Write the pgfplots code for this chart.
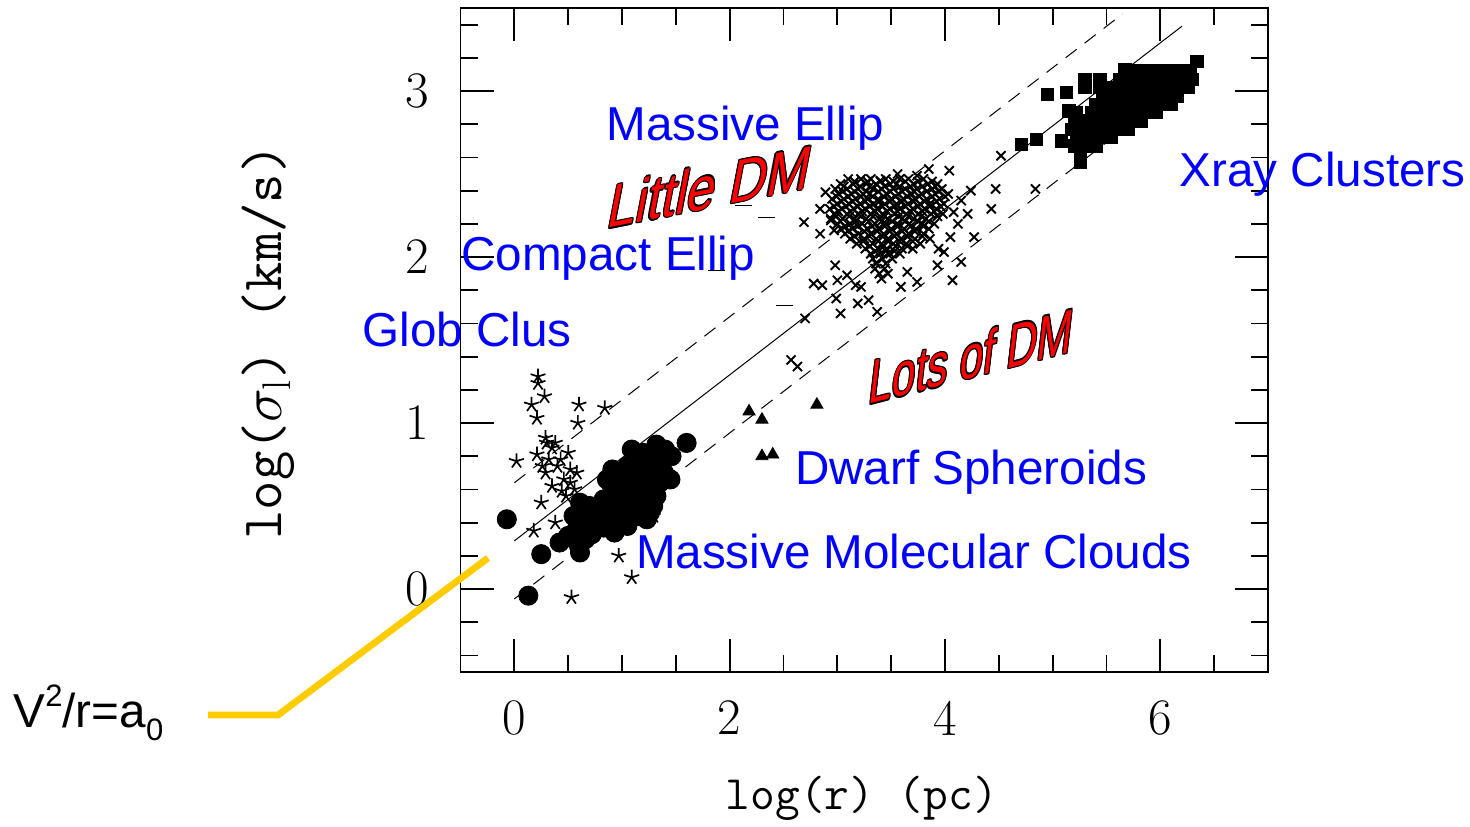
\RequirePackage{fix-cm}
\documentclass[border=0pt]{standalone}
\usepackage{fontspec}
\newfontfamily\arial{Liberation Sans}
\usepackage{pgfplots}
\pgfplotsset{compat=1.18}
\definecolor{annblue}{RGB}{0,0,255}
\definecolor{annred}{RGB}{255,0,0}
\definecolor{azeroyellow}{RGB}{255,204,0}

% red text with a black rim (copies shifted round it)
\newcommand\outlined[1]{%
  \leavevmode
  \rlap{\color{black}\kern0.55pt#1}%
  \rlap{\color{black}\kern-0.55pt#1}%
  \rlap{\color{black}\raisebox{0.55pt}{#1}}%
  \rlap{\color{black}\raisebox{-0.55pt}{#1}}%
  \rlap{\color{black}\kern0.4pt\raisebox{0.4pt}{#1}}%
  \rlap{\color{black}\kern-0.4pt\raisebox{0.4pt}{#1}}%
  \rlap{\color{black}\kern0.4pt\raisebox{-0.4pt}{#1}}%
  \rlap{\color{black}\kern-0.4pt\raisebox{-0.4pt}{#1}}%
  {\color{annred}#1}}

\begin{document}
\begin{tikzpicture}
\path[use as bounding box] (0,0) rectangle (735pt,413pt);
\begin{axis}[
    at={(230.25pt,77pt)}, anchor=south west,
    width=403.75pt, height=332pt, scale only axis,
    xmin=-0.5, xmax=7, ymin=-0.5, ymax=3.5,
    xtick={0,2,4,6}, ytick={0,1,2,3},
    minor xtick={0.5,1,1.5,2.5,3,3.5,4.5,5,5.5,6.5},
    minor ytick={-0.4,-0.2,0.2,0.4,0.6,0.8,1.2,1.4,1.6,1.8,2.2,2.4,2.6,2.8,3.2,3.4},
    tick align=inside,
    major tick length=16.5pt, minor tick length=8.5pt,
    every tick/.style={black, line width=0.9pt},
    axis line style={line width=0.9pt},
    /pgf/number format/assume math mode=true,
    tick label style={font=\fontsize{25.6}{30}\selectfont},
    xticklabel style={anchor=center, yshift=-23pt},
    yticklabel style={anchor=center, xshift=-21.75pt},
    xlabel={log(r) (pc)},
    ylabel={log($\sigma_{\mathrm{l}}$) (km/s)},
    xlabel style={font=\ttfamily\fontsize{24}{28}\selectfont, at={(axis description cs:0.497,-0.19)}, anchor=center},
    ylabel style={font=\ttfamily\fontsize{28.5}{32}\selectfont, at={(axis description cs:-0.238,0.497)}, anchor=center},
]
% relations sigma ~ r^(1/2)
\addplot[black, line width=0.5pt, no markers] coordinates {(0,0.29) (6.2,3.39)};
\addplot[black, line width=0.5pt, dash pattern=on 7pt off 5pt, no markers] coordinates {(0,0.64) (5.65,3.465)};
\addplot[black, line width=0.5pt, dash pattern=on 7pt off 5pt, no markers] coordinates {(0,-0.06) (6.0,2.94)};

% globular clusters
\addplot[only marks, mark=star, mark size=3.9pt, mark options={line width=0.85pt}] coordinates {
(0.22,1.28) (0.22,1.24) (0.28,1.16) (0.16,1.11) (0.21,1.03) (0.60,1.11)
(0.84,1.09) (0.59,1.00) (0.29,0.91) (0.02,0.77) (0.21,0.81) (0.35,0.85)
(0.43,0.78) (0.50,0.82) (0.32,0.78) (0.40,0.74) (0.29,0.70) (0.52,0.72)
(0.58,0.70) (0.46,0.66) (0.35,0.62) (0.44,0.59) (0.52,0.64) (0.25,0.52)
(0.38,0.40) (0.18,0.35) (0.97,0.20) (1.09,0.07) (0.53,-0.05) (1.29,0.44)
(0.30,0.88) (0.38,0.88) (0.48,0.56) (0.56,0.60) (0.26,0.74)
};

% massive molecular clouds
\addplot[only marks, mark=*, mark size=4.8pt, mark options={black}] coordinates {
(-0.07,0.42) (0.13,-0.04) (0.25,0.21) (0.42,0.28) (0.60,0.26) (0.58,0.36)
(0.55,0.44) (0.61,0.52) (0.67,0.42) (0.70,0.50) (0.74,0.38) (0.80,0.44)
(0.83,0.54) (0.86,0.48) (0.89,0.64) (0.92,0.38) (0.93,0.34) (0.92,0.54)
(0.95,0.70) (0.98,0.62) (1.01,0.46) (1.05,0.74) (1.05,0.38) (1.08,0.54)
(1.09,0.84) (1.14,0.64) (1.15,0.44) (1.17,0.74) (1.20,0.52) (1.26,0.62)
(1.26,0.46) (1.29,0.50) (1.29,0.76) (1.32,0.87) (1.39,0.70) (1.40,0.84)
(1.60,0.88) (0.61,0.22) (1.23,0.42) (1.45,0.66) (1.46,0.80) (0.86,0.66)
(0.91,0.72) (0.66,0.30) (0.64,0.46) (0.76,0.46) (0.72,0.33) (0.83,0.37)
(0.88,0.42) (0.98,0.52) (1.12,0.58) (1.18,0.66) (1.22,0.72) (1.32,0.56)
(1.35,0.64) (1.34,0.78) (1.20,0.82) (1.02,0.68) (0.97,0.44) (1.10,0.48)
(0.50,0.32) (0.56,0.30)
};

% dwarf spheroidals
\addplot[only marks, mark=triangle*, mark size=3.5pt, mark options={black}] coordinates {
(2.18,1.07) (2.30,1.02) (2.30,0.80) (2.40,0.81) (2.81,1.11)
};

% compact ellipticals
\addplot[only marks, mark=-, mark size=4.25pt, mark options={line width=0.6pt}] coordinates {
(1.88,1.92) (2.13,2.31) (2.34,2.24) (2.51,1.71)
};

% ellipticals
\addplot[only marks, mark=x, mark size=3.2pt, mark options={line width=0.95pt}] coordinates {
(3.10,2.47) (3.22,2.47) (3.31,2.47) (3.45,2.47) (3.58,2.47) (3.66,2.47) (3.80,2.47)
(3.03,2.44) (3.15,2.44) (3.27,2.44) (3.36,2.44) (3.49,2.44) (3.55,2.44) (3.71,2.44) (3.84,2.44) (3.93,2.44)
(2.98,2.41) (3.09,2.41) (3.19,2.41) (3.33,2.41) (3.41,2.41) (3.52,2.41) (3.63,2.41) (3.74,2.41) (3.88,2.41) (3.97,2.41)
(3.01,2.38) (3.13,2.38) (3.24,2.38) (3.30,2.38) (3.46,2.38) (3.57,2.38) (3.69,2.38) (3.78,2.38) (3.91,2.38) (4.03,2.38)
(2.95,2.35) (3.06,2.35) (3.17,2.35) (3.28,2.35) (3.38,2.35) (3.50,2.35) (3.61,2.35) (3.72,2.35) (3.83,2.35) (3.95,2.35)
(3.00,2.32) (3.11,2.32) (3.21,2.32) (3.34,2.32) (3.44,2.32) (3.55,2.32) (3.66,2.32) (3.77,2.32) (3.86,2.32) (3.99,2.32)
(2.93,2.29) (3.04,2.29) (3.15,2.29) (3.26,2.29) (3.37,2.29) (3.49,2.29) (3.58,2.29) (3.70,2.29) (3.81,2.29) (3.92,2.29)
(2.97,2.26) (3.09,2.26) (3.19,2.26) (3.31,2.26) (3.42,2.26) (3.53,2.26) (3.64,2.26) (3.75,2.26) (3.87,2.26) (3.98,2.26)
(2.94,2.23) (3.05,2.23) (3.16,2.23) (3.27,2.23) (3.39,2.23) (3.47,2.23) (3.60,2.23) (3.71,2.23) (3.82,2.23)
(3.00,2.20) (3.12,2.20) (3.23,2.20) (3.35,2.20) (3.45,2.20) (3.56,2.20) (3.67,2.20) (3.79,2.20) (3.90,2.20)
(3.03,2.17) (3.14,2.17) (3.28,2.17) (3.38,2.17) (3.50,2.17) (3.62,2.17) (3.73,2.17) (3.85,2.17)
(3.07,2.14) (3.20,2.14) (3.31,2.14) (3.43,2.14) (3.55,2.14) (3.66,2.14) (3.80,2.14)
(3.12,2.11) (3.25,2.11) (3.36,2.11) (3.47,2.11) (3.59,2.11) (3.72,2.11) (3.86,2.11)
(3.18,2.08) (3.33,2.08) (3.41,2.08) (3.52,2.08) (3.64,2.08) (3.77,2.08)
(3.26,2.05) (3.38,2.05) (3.46,2.05) (3.60,2.05) (3.70,2.05)
(3.31,2.02) (3.40,2.02) (3.49,2.02) (3.58,2.02)
(3.16,2.455) (3.28,2.455) (3.40,2.455) (3.52,2.455) (3.63,2.455) (3.75,2.455) (3.88,2.455)
(3.06,2.425) (3.21,2.425) (3.30,2.425) (3.44,2.425) (3.58,2.425) (3.68,2.425) (3.79,2.425) (3.91,2.425)
(3.05,2.395) (3.16,2.395) (3.27,2.395) (3.38,2.395) (3.49,2.395) (3.60,2.395) (3.71,2.395) (3.83,2.395) (3.94,2.395)
(2.99,2.365) (3.10,2.365) (3.22,2.365) (3.33,2.365) (3.43,2.365) (3.54,2.365) (3.65,2.365) (3.76,2.365) (3.88,2.365) (4.00,2.365)
(3.04,2.335) (3.14,2.335) (3.26,2.335) (3.39,2.335) (3.49,2.335) (3.60,2.335) (3.71,2.335) (3.81,2.335) (3.92,2.335)
(2.97,2.305) (3.08,2.305) (3.19,2.305) (3.30,2.305) (3.42,2.305) (3.53,2.305) (3.63,2.305) (3.75,2.305) (3.86,2.305) (3.96,2.305)
(3.01,2.275) (3.12,2.275) (3.23,2.275) (3.35,2.275) (3.46,2.275) (3.56,2.275) (3.68,2.275) (3.79,2.275) (3.90,2.275)
(2.99,2.245) (3.11,2.245) (3.22,2.245) (3.33,2.245) (3.44,2.245) (3.57,2.245) (3.66,2.245) (3.78,2.245) (3.93,2.245)
(3.03,2.215) (3.17,2.215) (3.29,2.215) (3.41,2.215) (3.51,2.215) (3.63,2.215) (3.75,2.215) (3.85,2.215)
(3.07,2.185) (3.19,2.185) (3.32,2.185) (3.44,2.185) (3.56,2.185) (3.68,2.185) (3.80,2.185)
(3.10,2.155) (3.25,2.155) (3.37,2.155) (3.49,2.155) (3.60,2.155) (3.72,2.155)
(3.16,2.125) (3.30,2.125) (3.42,2.125) (3.53,2.125) (3.65,2.125) (3.79,2.125)
(3.24,2.095) (3.38,2.095) (3.47,2.095) (3.58,2.095) (3.70,2.095)
(3.30,2.065) (3.43,2.065) (3.54,2.065) (3.65,2.065)
(3.35,2.035) (3.45,2.035) (3.53,2.035)
(3.33,1.99) (3.42,1.99) (3.51,1.99) (3.36,1.96) (3.45,1.96)
(3.35,1.93) (3.44,1.93) (3.39,1.90) (3.47,1.90) (3.41,1.87)
(2.89,2.39) (2.84,2.29) (2.69,2.21) (2.84,2.14) (2.94,2.22) (2.97,2.16)
(3.85,2.53) (4.04,2.52) (3.74,2.49) (3.56,2.50) (3.40,2.46)
(4.24,2.40) (4.15,2.34) (4.08,2.27) (4.21,2.26) (4.12,2.20)
(4.52,2.61) (4.47,2.41) (4.43,2.29) (4.27,2.12) (4.84,2.41)
(4.15,1.97) (4.07,1.86) (4.05,2.12) (3.99,2.03) (3.94,2.05) (3.93,1.95)
(3.65,1.91) (3.74,1.85) (3.59,1.82) (2.78,1.84) (2.86,1.83) (3.17,1.83)
(3.22,1.82) (3.09,1.89) (2.98,1.95) (3.00,1.86) (3.19,1.72) (3.03,1.66)
(3.37,1.67) (3.29,1.74) (2.70,1.63) (2.99,1.75) (2.57,1.38) (2.63,1.34)
};

% X-ray clusters
\addplot[only marks, mark=square*, mark size=3.1pt, mark options={black}] coordinates {
(5.80,3.12) (5.90,3.12) (6.00,3.12) (6.10,3.12) (6.20,3.12) (6.28,3.12)
(5.30,3.07) (5.44,3.07) (5.62,3.07) (5.72,3.07) (5.82,3.07) (5.92,3.07) (6.02,3.07) (6.12,3.07) (6.22,3.07) (6.30,3.07)
(5.30,3.02) (5.44,3.02) (5.56,3.02) (5.66,3.02) (5.76,3.02) (5.86,3.02) (5.96,3.02) (6.06,3.02) (6.16,3.02) (6.26,3.02)
(5.46,2.97) (5.56,2.97) (5.66,2.97) (5.76,2.97) (5.86,2.97) (5.96,2.97) (6.06,2.97) (6.16,2.97)
(5.40,2.92) (5.50,2.92) (5.60,2.92) (5.70,2.92) (5.80,2.92) (5.90,2.92) (6.00,2.92) (6.10,2.92)
(5.22,2.87) (5.36,2.87) (5.46,2.87) (5.56,2.87) (5.66,2.87) (5.76,2.87) (5.86,2.87) (5.96,2.87)
(5.20,2.82) (5.32,2.82) (5.42,2.82) (5.52,2.82) (5.62,2.82) (5.72,2.82) (5.82,2.82)
(5.18,2.77) (5.30,2.77) (5.40,2.77) (5.50,2.77) (5.60,2.77) (5.70,2.77)
(5.22,2.72) (5.34,2.72) (5.44,2.72) (5.54,2.72)
(5.20,2.67) (5.30,2.67) (5.40,2.67) (5.26,2.62) (5.26,2.57)
(4.95,2.98) (5.13,2.99) (4.71,2.68) (4.85,2.71) (6.34,3.18) (5.67,3.13)
(5.08,2.70) (5.15,2.88)
};
\end{axis}

\begin{scope}[x=0.5pt, y=0.5pt]
\draw[azeroyellow, line width=3.4pt] (208,111) -- (278,111) -- (488,268);
\node[anchor=base west, inner sep=0, font=\arial\fontsize{23.8}{28}\selectfont] at (13.3,98.7)
  {V\raisebox{0.43em}{\fontsize{15.5}{16}\selectfont 2}/r=a\raisebox{-0.27em}{\fontsize{15.5}{16}\selectfont 0}};
\tikzset{bluelab/.style={anchor=base west, inner sep=0, text=annblue, font=\arial\fontsize{23.8}{28}\selectfont}}
\node[bluelab] at (606,685) {Massive Ellip};
\node[bluelab] at (1179.5,639) {Xray Clusters};
\node[bluelab] at (461,556) {Compact Ellip};
\node[bluelab] at (362,480) {Glob Clus};
\node[bluelab] at (794.7,342) {Dwarf Spheroids};
\node[bluelab] at (635.6,258) {Massive Molecular Clouds};
\node[anchor=base west, inner sep=0, transform shape, yslant=0.2, xslant=0.2, yscale=1.18,
      font=\arial\fontsize{25.5}{30}\selectfont] at (605,597) {\outlined{Little DM}};
\node[anchor=base west, inner sep=0, transform shape, yslant=0.26, xslant=0.12, yscale=1.45,
      font=\arial\fontsize{21}{25}\selectfont] at (867,421) {\outlined{Lots of DM}};
\end{scope}
\end{tikzpicture}
\end{document}
